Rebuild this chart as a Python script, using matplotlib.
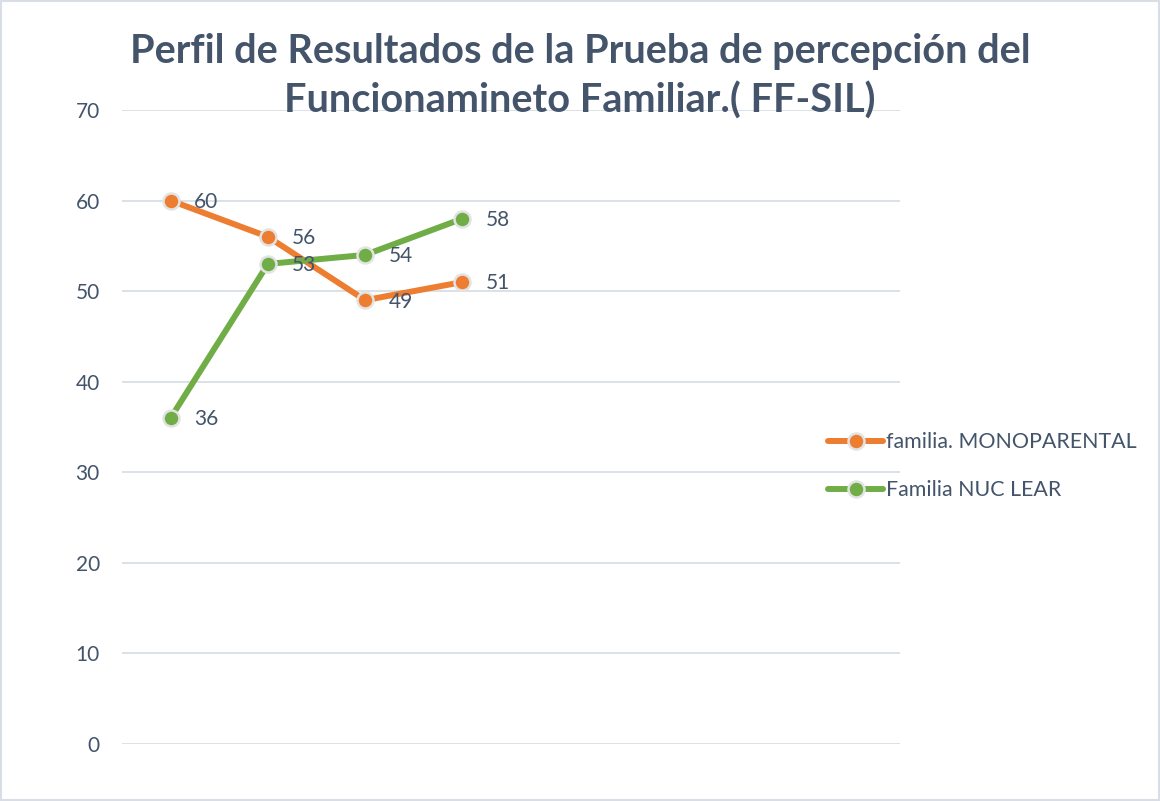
import matplotlib
matplotlib.use("Agg")
import matplotlib.pyplot as plt
from matplotlib.patches import Rectangle

plt.rcParams['font.family'] = ['Lato', 'DejaVu Sans']

title = "Perfil de Resultados de la Prueba de percepción del\nFuncionamineto Familiar.( FF-SIL)"
n_slots = 8
x_pos = [0, 1, 2, 3]
mono_label = "familia. MONOPARENTAL"
mono_vals = [60, 56, 49, 51]
nuc_label = "Familia NUC LEAR"
nuc_vals = [36, 53, 54, 58]
y_ticks = [0, 10, 20, 30, 40, 50, 60, 70]

text_col = '#44546A'
grid_col = '#D9DEE6'
orange = '#ED7D31'
green = '#70AD47'

fig = plt.figure(figsize=(11.6, 8.01), dpi=100)
ax = fig.add_axes([0.1052, 0.0712, 0.6707, 0.7915])

for vals, col, lab in [(mono_vals, orange, mono_label), (nuc_vals, green, nuc_label)]:
    ax.plot(x_pos, vals, color=col, lw=4.3, marker='o', markersize=11.5,
            markerfacecolor=col, markeredgecolor='#E3E3E3', markeredgewidth=1.8,
            label=lab, solid_capstyle='round', zorder=3)
    for x, v in zip(x_pos, vals):
        ax.annotate(str(v), (x, v), xytext=(17, -1), textcoords='offset points',
                    ha='left', va='center', fontsize=15, color=text_col)

ax.set_xlim(-0.5, n_slots - 0.5)
ax.set_ylim(0, 70)
ax.set_yticks(y_ticks)
ax.set_xticks([])
ax.yaxis.grid(True, color=grid_col, lw=1.3)
ax.set_axisbelow(True)
for s in ax.spines.values():
    s.set_visible(False)
ax.tick_params(axis='y', length=0, pad=16, labelsize=15, labelcolor=text_col)

fig.text(0.5, 0.905, title, ha='center', va='center', fontsize=28.5,
         fontweight='bold', color=text_col, linespacing=1.38)

leg = fig.legend(loc='center left', bbox_to_anchor=(0.697, 0.418), frameon=False,
                 fontsize=15.4, labelcolor=text_col, handlelength=2.6,
                 handletextpad=0.1, labelspacing=1.3)

fig.patches.append(Rectangle((0.001, 0.001), 0.998, 0.998, transform=fig.transFigure,
                             fill=False, edgecolor='#D9DEE6', lw=1.5))

fig.savefig('out.png', dpi=100)
